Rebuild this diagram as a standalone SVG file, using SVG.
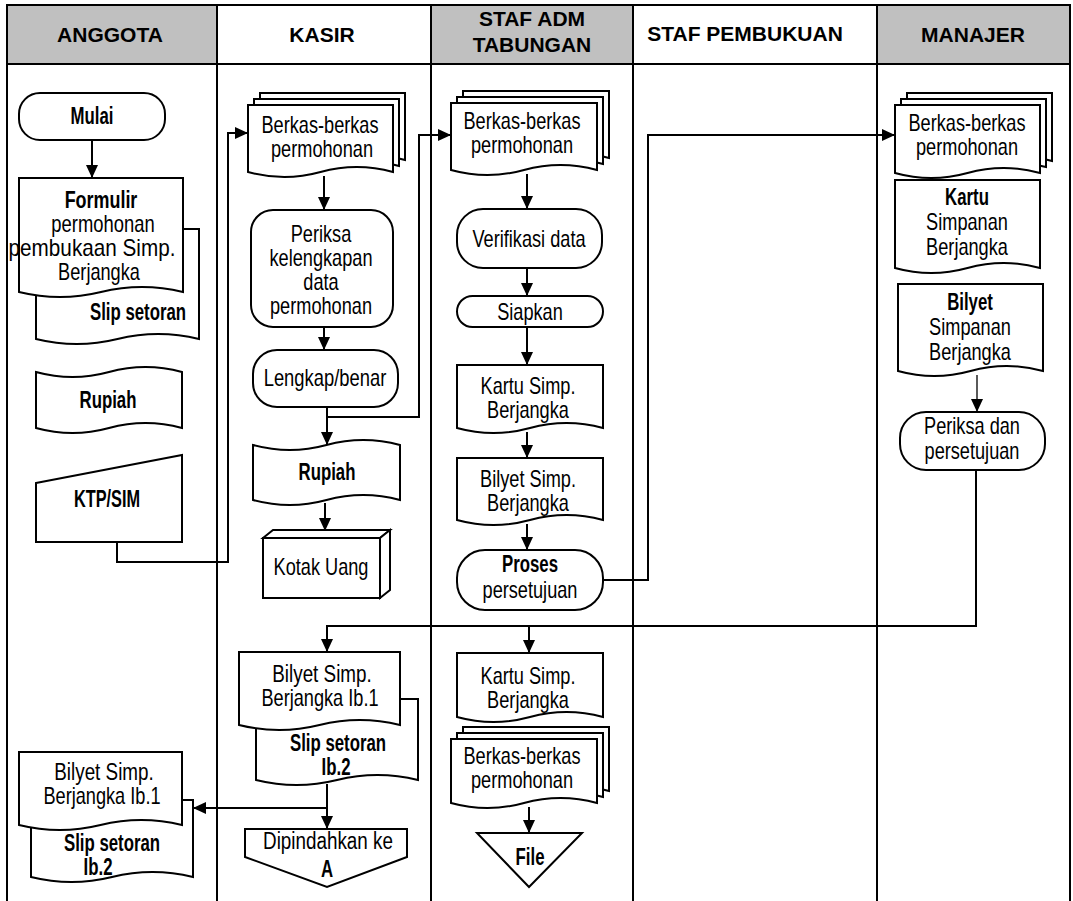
<svg xmlns="http://www.w3.org/2000/svg" width="1073" height="901" viewBox="0 0 1073 901">
<style>
.bg{fill:#fff}
.hg{fill:#c0c0c0;stroke:#000;stroke-width:2}
.hw{fill:#fff;stroke:#000;stroke-width:2}
.lane{fill:none;stroke:#000;stroke-width:2}
.s{fill:#fff;stroke:#000;stroke-width:2}
.c{fill:none;stroke:#000;stroke-width:2}
.c1{fill:none;stroke:#000;stroke-width:1.3}
.h{font-family:"Liberation Sans",Arial,sans-serif;font-size:21px;font-weight:bold;text-anchor:middle;fill:#000}
.t{font-family:"Liberation Sans",Arial,sans-serif;font-size:23px;text-anchor:middle;fill:#000}
.b{font-weight:bold}
</style>
<defs>
<marker id="ah" markerWidth="13" markerHeight="12" refX="13" refY="6" orient="auto" markerUnits="userSpaceOnUse"><path d="M0,0 L13,6 L0,12 Z" fill="#000"/></marker>
</defs>
<rect class="bg" x="0" y="0" width="1073" height="901"/>
<g id="lanes">
<rect class="hg" x="7" y="5" width="210" height="59"/>
<rect class="hw" x="217" y="5" width="214" height="59"/>
<rect class="hg" x="431" y="5" width="202" height="59"/>
<rect class="hw" x="633" y="5" width="244" height="59"/>
<rect class="hg" x="877" y="5" width="193" height="59"/>
<path class="lane" d="M7 5V901M217 5V901M431 5V901M633 5V901M877 5V901M1070 5V901"/>
<text class="h" x="110" y="42">ANGGOTA</text>
<text class="h" x="322" y="42">KASIR</text>
<text class="h" x="532" y="26">STAF ADM</text>
<text class="h" x="532" y="52">TABUNGAN</text>
<text class="h" x="745" y="41">STAF PEMBUKUAN</text>
<text class="h" x="973" y="42">MANAJER</text>
</g>
<g id="mulai"><rect class="s" x="19" y="93" width="146" height="47" rx="21"/><text class="t b" transform="translate(92 124) scale(.73 1)">Mulai</text></g>
<g id="formulir">
<path class="s" d="M36 229H199V339Q158.25 329 117.5 339T36 339Z"/>
<path class="s" d="M19 178H183V292Q142 282 101 292T19 292Z"/>
<text class="t b" transform="translate(101 208) scale(.78 1)">Formulir</text>
<text class="t" transform="translate(103 232) scale(.8 1)">permohonan</text>
<text class="t" transform="translate(92 256) scale(.9 1)">pembukaan Simp.</text>
<text class="t" transform="translate(99 280) scale(.79 1)">Berjangka</text>
<text class="t b" transform="translate(138 320) scale(.73 1)">Slip setoran</text>
</g>
<g id="rupiah1"><path class="s" d="M36 372Q72.5 382 109 372T182 372V428Q145.5 418 109 428T36 428Z"/><text class="t b" transform="translate(108 408) scale(.73 1)">Rupiah</text></g>
<g id="ktp"><path class="s" d="M36 483L182 455V542H36Z"/><text class="t b" transform="translate(107 507) scale(.71 1)">KTP/SIM</text></g>
<g id="berkas1">
<path class="s" d="M260 93H405V160Q368.75 150 332.5 160T260 160Z"/>
<path class="s" d="M254 99H399V166Q362.75 156 326.5 166T254 166Z"/>
<path class="s" d="M248 105H393V172Q356.75 162 320.5 172T248 172Z"/>
<text class="t" transform="translate(320 133) scale(.79 1)">Berkas-berkas</text>
<text class="t" transform="translate(322 157) scale(.79 1)">permohonan</text>
</g>
<g id="periksa1"><rect class="s" x="251" y="210" width="142" height="117" rx="22"/>
<text class="t" transform="translate(321 242) scale(.79 1)">Periksa</text>
<text class="t" transform="translate(321 266) scale(.79 1)">kelengkapan</text>
<text class="t" transform="translate(321 290) scale(.79 1)">data</text>
<text class="t" transform="translate(321 314) scale(.79 1)">permohonan</text></g>
<g id="lengkap"><rect class="s" x="253" y="350" width="145" height="57" rx="24"/><text class="t" transform="translate(325 386) scale(.8 1)">Lengkap/benar</text></g>
<g id="rupiah2"><path class="s" d="M253 445Q289.75 455 326.5 445T400 445V500Q363.25 490 326.5 500T253 500Z"/><text class="t b" transform="translate(327 480) scale(.73 1)">Rupiah</text></g>
<g id="kotak">
<path class="s" d="M263 538L273 530H390L380 538Z"/>
<path class="s" d="M380 538L390 530V590L380 598Z"/>
<rect class="s" x="263" y="538" width="117" height="60"/>
<text class="t" transform="translate(321 575) scale(.79 1)">Kotak Uang</text>
</g>
<g id="berkas2">
<path class="s" d="M463 91H609V158Q572.5 148 536 158T463 158Z"/>
<path class="s" d="M457 97H603V164Q566.5 154 530 164T457 164Z"/>
<path class="s" d="M451 103H597V170Q560.5 160 524 170T451 170Z"/>
<text class="t" transform="translate(522 129) scale(.79 1)">Berkas-berkas</text>
<text class="t" transform="translate(522 153) scale(.79 1)">permohonan</text>
</g>
<g id="verifikasi"><rect class="s" x="457" y="209" width="145" height="59" rx="26"/><text class="t" transform="translate(529 247) scale(.79 1)">Verifikasi data</text></g>
<g id="siapkan"><rect class="s" x="457" y="296" width="146" height="31" rx="15.5"/><text class="t" transform="translate(530 320) scale(.79 1)">Siapkan</text></g>
<g id="kartu1"><path class="s" d="M457 365H603V428Q566.5 418 530 428T457 428Z"/><text class="t" transform="translate(528 394) scale(.79 1)">Kartu Simp.</text><text class="t" transform="translate(528 418) scale(.79 1)">Berjangka</text></g>
<g id="bilyet1"><path class="s" d="M457 458H603V520Q566.5 510 530 520T457 520Z"/><text class="t" transform="translate(528 487) scale(.79 1)">Bilyet Simp.</text><text class="t" transform="translate(528 511) scale(.79 1)">Berjangka</text></g>
<g id="proses"><rect class="s" x="457" y="550" width="146" height="60" rx="28"/><text class="t b" transform="translate(530 572) scale(.73 1)">Proses</text><text class="t" transform="translate(530 598) scale(.79 1)">persetujuan</text></g>
<g id="berkas3">
<path class="s" d="M907 93H1052V161Q1015.75 151 979.5 161T907 161Z"/>
<path class="s" d="M901 99H1046V167Q1009.75 157 973.5 167T901 167Z"/>
<path class="s" d="M895 105H1040V173Q1003.75 163 967.5 173T895 173Z"/>
<text class="t" transform="translate(967 131) scale(.79 1)">Berkas-berkas</text>
<text class="t" transform="translate(967 155) scale(.79 1)">permohonan</text>
</g>
<g id="kartu2"><path class="s" d="M895 180H1040V268Q1003.75 258 967.5 268T895 268Z"/><text class="t b" transform="translate(967 205) scale(.73 1)">Kartu</text><text class="t" transform="translate(967 230) scale(.79 1)">Simpanan</text><text class="t" transform="translate(967 255) scale(.79 1)">Berjangka</text></g>
<g id="bilyet2"><path class="s" d="M898 284H1043V371Q1006.75 361 970.5 371T898 371Z"/><text class="t b" transform="translate(970 310) scale(.73 1)">Bilyet</text><text class="t" transform="translate(970 335) scale(.79 1)">Simpanan</text><text class="t" transform="translate(970 360) scale(.79 1)">Berjangka</text></g>
<g id="periksa2"><rect class="s" x="900" y="412" width="145" height="58" rx="26"/><text class="t" transform="translate(972 434) scale(.79 1)">Periksa dan</text><text class="t" transform="translate(972 459) scale(.79 1)">persetujuan</text></g>
<g id="bilyet3">
<path class="s" d="M256 699H418V780Q377.5 770 337 780T256 780Z"/>
<path class="s" d="M239 652H400V725Q359.75 715 319.5 725T239 725Z"/>
<text class="t" transform="translate(322 682) scale(.82 1)">Bilyet Simp.</text>
<text class="t" transform="translate(320 706) scale(.79 1)">Berjangka Ib.1</text>
<text class="t b" transform="translate(338 751) scale(.73 1)">Slip setoran</text>
<text class="t b" transform="translate(336 775) scale(.73 1)">Ib.2</text>
</g>
<g id="dipindahkan"><path class="s" d="M245 829H407V857L327 887L245 857Z"/><text class="t" transform="translate(328 849) scale(.82 1)">Dipindahkan ke</text><text class="t b" transform="translate(327 877) scale(.73 1)">A</text></g>
<g id="bilyet4">
<path class="s" d="M31 800H193V877Q152.5 867 112 877T31 877Z"/>
<path class="s" d="M19 752H182V825Q141.25 815 100.5 825T19 825Z"/>
<text class="t" transform="translate(104 780) scale(.82 1)">Bilyet Simp.</text>
<text class="t" transform="translate(102 804) scale(.79 1)">Berjangka Ib.1</text>
<text class="t b" transform="translate(112 851) scale(.73 1)">Slip setoran</text>
<text class="t b" transform="translate(98 875) scale(.73 1)">Ib.2</text>
</g>
<g id="kartu3"><path class="s" d="M457 653H603V717Q566.5 707 530 717T457 717Z"/><text class="t" transform="translate(528 684) scale(.79 1)">Kartu Simp.</text><text class="t" transform="translate(528 708) scale(.79 1)">Berjangka</text></g>
<g id="berkas4">
<path class="s" d="M463 727H609V791Q572.5 781 536 791T463 791Z"/>
<path class="s" d="M457 733H603V797Q566.5 787 530 797T457 797Z"/>
<path class="s" d="M451 739H597V803Q560.5 793 524 803T451 803Z"/>
<text class="t" transform="translate(522 764) scale(.79 1)">Berkas-berkas</text>
<text class="t" transform="translate(522 788) scale(.79 1)">permohonan</text>
</g>
<g id="file"><path class="s" d="M477 833H582L529 887Z"/><text class="t b" transform="translate(530 865) scale(.73 1)">File</text></g>
<g id="connectors">
<path class="c" marker-end="url(#ah)" d="M92 140V178"/>
<path class="c" marker-end="url(#ah)" d="M117 542V562H228V133H248"/>
<path class="c" marker-end="url(#ah)" d="M324 176V210"/>
<path class="c" marker-end="url(#ah)" d="M324 327V350"/>
<path class="c" marker-end="url(#ah)" d="M327 407V445"/>
<path class="c" marker-end="url(#ah)" d="M327 417H419V135H451"/>
<path class="c" marker-end="url(#ah)" d="M325 503V531"/>
<path class="c" marker-end="url(#ah)" d="M527 174V209"/>
<path class="c" marker-end="url(#ah)" d="M527 268V296"/>
<path class="c" marker-end="url(#ah)" d="M527 327V365"/>
<path class="c" marker-end="url(#ah)" d="M527 432V458"/>
<path class="c" marker-end="url(#ah)" d="M527 524V550"/>
<path class="c" marker-end="url(#ah)" d="M603 580H648V135H895"/>
<path class="c1" marker-end="url(#ah)" d="M977 375V412"/>
<path class="c" marker-end="url(#ah)" d="M976 470V626H327V652"/>
<path class="c" marker-end="url(#ah)" d="M529 626V653"/>
<path class="c" marker-end="url(#ah)" d="M327 784V829"/>
<path class="c" marker-end="url(#ah)" d="M327 808H193"/>
<path class="c" marker-end="url(#ah)" d="M529 807V833"/>
</g>
</svg>
